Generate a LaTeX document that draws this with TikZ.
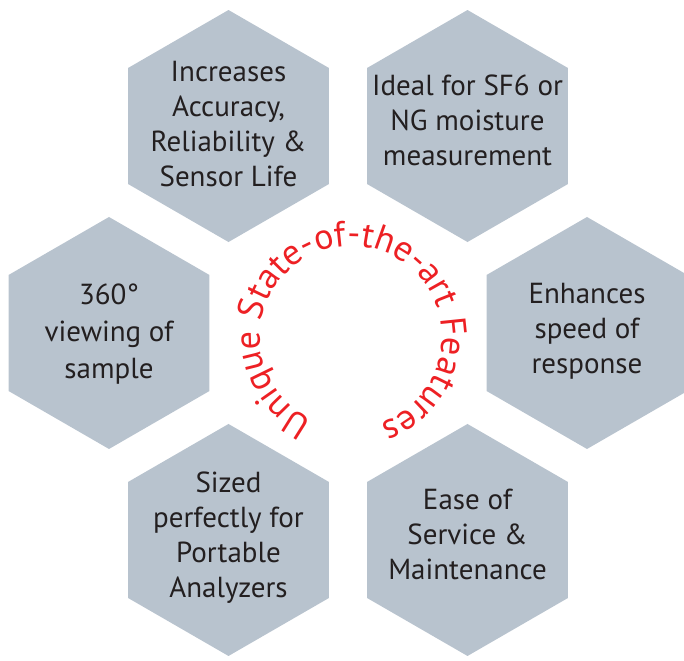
\documentclass[tikz,border=0pt]{standalone}
\usepackage{fontspec}
\setmainfont{PT Sans}
\usetikzlibrary{decorations.text}
\definecolor{hexgray}{RGB}{184,195,206}
\definecolor{txtdark}{RGB}{35,31,32}
\definecolor{redtxt}{RGB}{237,32,36}
\begin{document}
\begin{tikzpicture}[x=1pt,y=1pt,
  hexbox/.style={fill=hexgray},
  hextext/.style={text=txtdark, align=center, font=\fontsize{29}{35}\selectfont, inner sep=0pt}]
\useasboundingbox (0,0) rectangle (684,660);
\clip (0,0) rectangle (684,660);
\coordinate (C) at (348,327);
\foreach \n/\a in {R/0, TR/60, TL/120, L/180, BL/240, BR/300}{
  \path (C) ++(\a:239) coordinate (\n);
  \fill[hexbox] (\n) +(90:116) -- +(150:116) -- +(210:116) -- +(270:116) -- +(330:116) -- +(30:116) -- cycle;
}
\node[hextext] (tTL) at ([yshift=2]TL) {Increases\\Accuracy,\\Reliability \&\\Sensor Life};
\node[hextext] (tTR) at ([yshift=6]TR) {Ideal for SF6 or\\NG moisture\\measurement};
\node[hextext, font=\fontsize{29}{37}\selectfont] (tL) at ([yshift=-1]L) {360°\\viewing of\\sample};
\node[hextext] (tR) at ([yshift=2]R) {Enhances\\speed of\\response};
\node[hextext] (tBL) at ([yshift=2]BL) {Sized\\perfectly for\\Portable\\Analyzers};
\node[hextext] (tBR) at ([yshift=6]BR) {Ease of\\Service \&\\Maintenance};
\coordinate (RC) at (351,323);
\path[decorate, decoration={text along path, text color=redtxt,
    text={|\fontsize{36}{36}\selectfont|Unique State-of-the-art Features}, text align=center}]
  (RC) ++(267:91) arc[start angle=267, end angle=-93, radius=91];
\end{tikzpicture}
\end{document}
